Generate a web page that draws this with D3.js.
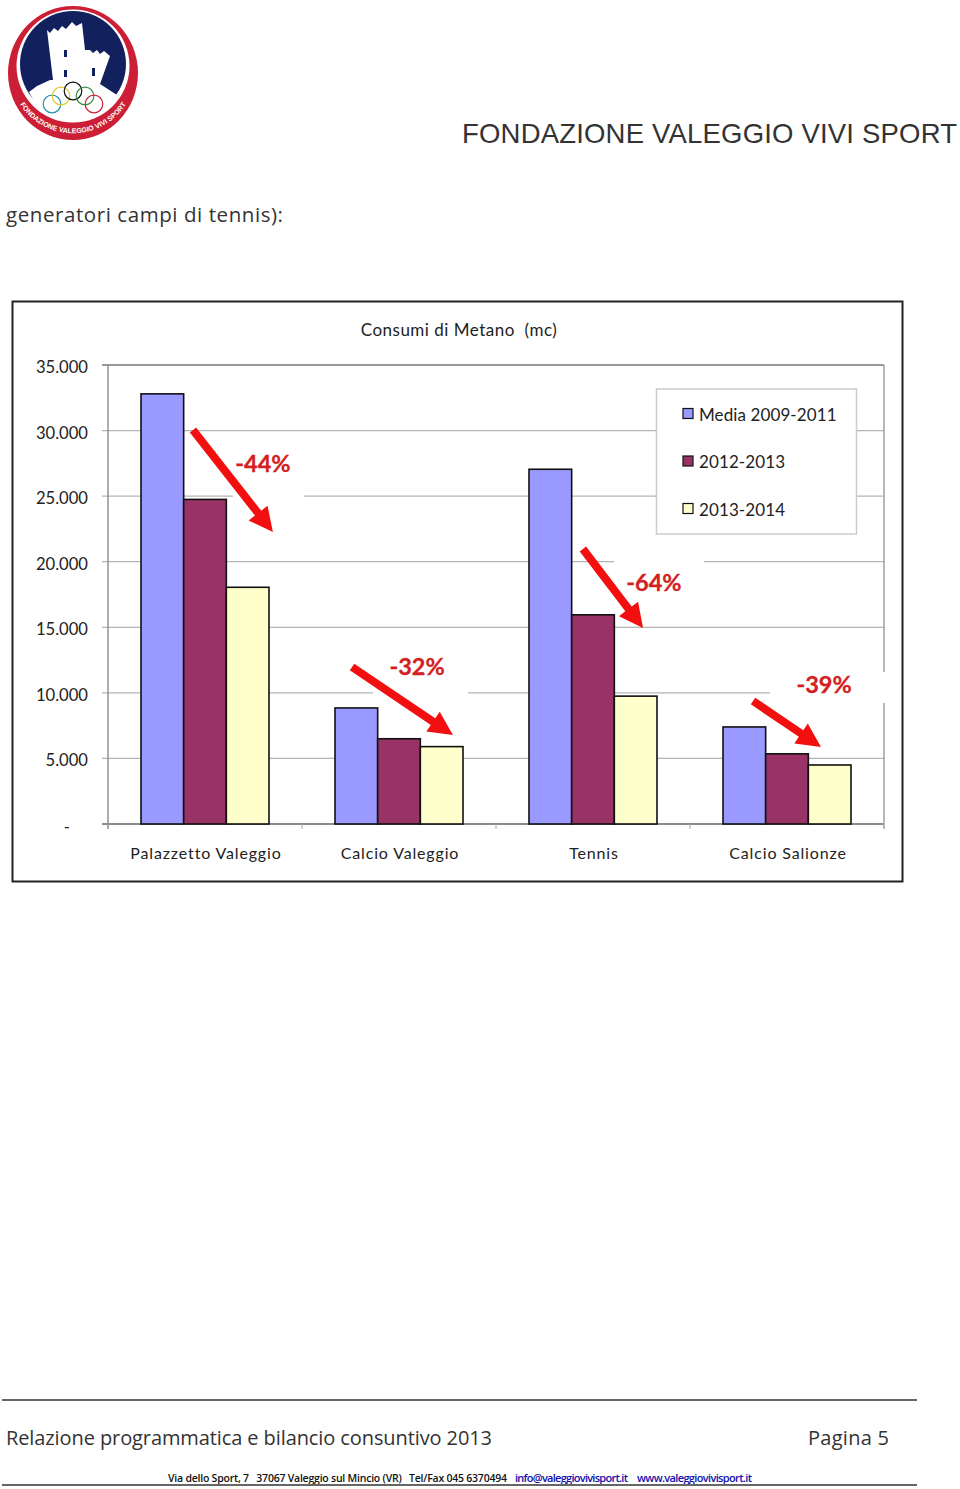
<!DOCTYPE html>
<html><head><meta charset="utf-8">
<script src="https://cdn.jsdelivr.net/npm/d3@7"></script>
<style>html,body{margin:0;padding:0;background:#fff}svg{display:block}text{white-space:pre}</style></head>
<body><svg id="c" width="960" height="1489"></svg>
<script>
const categories=["Palazzetto Valeggio","Calcio Valeggio","Tennis","Calcio Salionze"];
const seriesNames=["Media 2009-2011","2012-2013","2013-2014"];
const media=[32800,8850,27050,7400];
const y1213=[24750,6500,15950,5350];
const y1314=[18050,5900,9750,4500];
const seriesValues=[media,y1213,y1314];
const colors=["#9999ff","#993366","#ffffcc"];
const yTicks=[0,5000,10000,15000,20000,25000,30000,35000];
const yTickLabels=["-","5.000","10.000","15.000","20.000","25.000","30.000","35.000"];
const arrowLabels=["-44%","-32%","-64%","-39%"];
const arrowFrom=[[.438,30044],[1.258,11972],[2.448,20970],[3.325,9379]];
const arrowTo=[[.850,22266],[1.778,6786],[2.758,14946],[3.675,5871]];
const labelAt=[[.799,27527],[1.593,11972],[2.814,18453],[3.691,10675]];

const svg=d3.select("#c");
const sans="'Liberation Sans',Arial,sans-serif", cal="Lato,sans-serif", goth="'Open Sans',sans-serif";
const x=d3.scaleBand().domain(categories).range([108,884]);
const y=d3.scaleLinear().domain([0,35000]).range([824,365]);
const inner=d3.scaleBand().domain([0,1,2]).range([33,x.bandwidth()-33]);
const pos=v=>108+v*x.bandwidth();

/* logo */
const logo=svg.append("g");
logo.append("ellipse").attr("cx",73).attr("cy",73).attr("rx",65).attr("ry",67).attr("fill","#cc1f36");
logo.append("circle").attr("cx",73).attr("cy",66).attr("r",56.5).attr("fill","#fff");
logo.append("circle").attr("cx",73).attr("cy",64).attr("r",53).attr("fill","#12215e");
logo.append("path").attr("fill","#fff").attr("d","M47,30L50,33L54,28L58,31L62,26L66,29L72,22L76,26L82,23L85,50L90,50L93,53L97,50L100,54L104,51L110,56L100,84L117,95L104,112L73,122L40,112L29,92L37,86L50,80L53,80Z");
logo.append("path").attr("fill","#cc1f36").attr("d","M17,86A57,57 0 0 0 129,86L137,86A65,67 0 0 1 9,86Z").attr("opacity",0);
[[64,50,3,7],[64,70,3,7],[92,68,3,8]].forEach(d=>logo.append("rect").attr("x",d[0]).attr("y",d[1]).attr("width",d[2]).attr("height",d[3]).attr("fill","#12215e"));
[[52,104,"#2a8fb0"],[61,96,"#e6c832"],[73,91,"#111"],[85,96,"#3c8f4a"],[94,104,"#c9243a"]].forEach(d=>logo.append("circle").attr("cx",d[0]).attr("cy",d[1]).attr("r",8.8).attr("fill","none").attr("stroke",d[2]).attr("stroke-width",1.2));
logo.append("defs").append("path").attr("id","arc").attr("d","M12,86A63,63 0 0 0 134,86");
logo.append("text").attr("font-family",sans).attr("font-size",7).attr("font-weight",700).attr("fill","#fff")
 .append("textPath").attr("href","#arc").attr("startOffset","50%").attr("text-anchor","middle").text("FONDAZIONE VALEGGIO VIVI SPORT");

/* page text */
svg.append("text").attr("x",462).attr("y",143).attr("font-family",sans).attr("font-size",27.5).attr("fill","#333").attr("textLength",495).text("FONDAZIONE VALEGGIO VIVI SPORT");
svg.append("text").attr("x",6).attr("y",222).attr("font-family",goth).attr("font-size",20.5).attr("fill","#333").attr("textLength",277).text("generatori campi di tennis):");

/* chart frame */
svg.append("rect").attr("x",12.5).attr("y",301.5).attr("width",890).attr("height",580).attr("fill","#fff").attr("stroke","#222").attr("stroke-width",2);
svg.append("text").attr("x",459).attr("y",336).attr("text-anchor","middle").attr("font-family",cal).attr("font-size",17).attr("fill","#222").attr("letter-spacing",.5).text("Consumi di Metano  (mc)");

/* grid + axes */
svg.append("g").selectAll("line").data(yTicks).join("line").attr("x1",102).attr("x2",884).attr("y1",d=>y(d)).attr("y2",d=>y(d))
 .attr("stroke",d=>d===0?"#666":d===35000?"#999":"#b4b4b4").attr("stroke-width",d=>d===35000?2:1.3);
svg.append("line").attr("x1",108).attr("x2",108).attr("y1",365).attr("y2",829).attr("stroke","#8a8a8a").attr("stroke-width",1.4);
svg.append("line").attr("x1",884).attr("x2",884).attr("y1",365).attr("y2",829).attr("stroke","#a6a6a6").attr("stroke-width",1.6);
svg.append("g").selectAll("line").data(categories).join("line").attr("x1",d=>x(d)).attr("x2",d=>x(d)).attr("y1",824).attr("y2",829).attr("stroke","#aaa");
svg.append("g").selectAll("text").data(yTicks).join("text").attr("x",d=>d?88:70).attr("y",d=>y(d)+(d?8:9)).attr("text-anchor","end").attr("font-family",cal).attr("font-size",16.6).attr("fill","#222").text((d,i)=>yTickLabels[i]);
svg.append("g").selectAll("text").data(categories).join("text").attr("x",d=>x(d)+x.bandwidth()/2+1).attr("y",859).attr("text-anchor","middle").attr("font-family",cal).attr("font-size",16).attr("letter-spacing",.85).attr("fill","#222").text(d=>d);

/* white plates behind percent labels */
const plateX=[[-30,41],[-44,51],[-40,50],[-54,62]];
const plateY=[[-25,42],[-17,33],[-30,28],[-12,19]];
svg.append("g").selectAll("rect").data(arrowLabels).join("rect")
 .attr("x",(d,i)=>pos(labelAt[i][0])+plateX[i][0]).attr("width",(d,i)=>plateX[i][1]-plateX[i][0])
 .attr("y",(d,i)=>y(labelAt[i][1])+plateY[i][0]).attr("height",(d,i)=>plateY[i][1]-plateY[i][0])
 .attr("fill","#fff");

/* bars */
seriesValues.forEach((vals,s)=>{
 svg.append("g").selectAll("rect").data(vals).join("rect")
  .attr("x",(d,i)=>x(categories[i])+inner(s)).attr("width",inner.bandwidth())
  .attr("y",d=>y(d)).attr("height",d=>y(0)-y(d))
  .attr("fill",colors[s]).attr("stroke","#111").attr("stroke-width",1.6);
});
svg.append("g").selectAll("text").data(arrowLabels).join("text").attr("x",(d,i)=>pos(labelAt[i][0])).attr("y",(d,i)=>y(labelAt[i][1])+8.5).attr("text-anchor","middle").attr("font-family",cal).attr("font-size",23.5).attr("font-weight",700).attr("fill","#d32020").attr("stroke","#d32020").attr("stroke-width",.3).text(d=>d);

/* arrows */
arrowLabels.forEach((d,i)=>{
 const x1=pos(arrowFrom[i][0]),y1=y(arrowFrom[i][1]),x2=pos(arrowTo[i][0]),y2=y(arrowTo[i][1]);
 const a=Math.atan2(y2-y1,x2-x1),L=Math.hypot(x2-x1,y2-y1),h=24,w=12,t=4;
 svg.append("path").attr("transform",`translate(${x1},${y1}) rotate(${a*180/Math.PI})`).attr("fill","#f20f0f")
  .attr("d",`M0,${-t}L${L-h},${-t}L${L-h},${-w}L${L},0L${L-h},${w}L${L-h},${t}L0,${t}Z`);
});

/* legend */
svg.append("rect").attr("x",656.5).attr("y",389).attr("width",200).attr("height",145).attr("fill","#fff").attr("stroke","#ccc").attr("stroke-width",1.5);
const leg=svg.append("g").selectAll("g").data(seriesNames).join("g").attr("transform",(d,i)=>`translate(683,${414+i*47.5})`);
leg.append("rect").attr("y",-5.5).attr("width",10).attr("height",10).attr("fill",(d,i)=>colors[i]).attr("stroke","#111").attr("stroke-width",1.2);
leg.append("text").attr("x",16).attr("y",6.5).attr("font-family",cal).attr("font-size",17).attr("letter-spacing",.1).attr("fill","#222").text(d=>d);

/* footer */
svg.append("line").attr("x1",2).attr("x2",917).attr("y1",1400).attr("y2",1400).attr("stroke","#333").attr("stroke-width",1.4);
svg.append("text").attr("x",6).attr("y",1445).attr("font-family",goth).attr("font-size",20).attr("fill","#333").attr("textLength",486).text("Relazione programmatica e bilancio consuntivo 2013");
svg.append("text").attr("x",808).attr("y",1445).attr("font-family",goth).attr("font-size",20).attr("fill","#333").attr("textLength",81).text("Pagina 5");
svg.append("text").attr("x",168).attr("y",1482).attr("font-family",goth).attr("font-size",10.5).attr("font-weight",600).attr("fill","#111").attr("textLength",339).text("Via dello Sport, 7   37067 Valeggio sul Mincio (VR)   Tel/Fax 045 6370494");
svg.append("text").attr("x",515).attr("y",1482).attr("font-family",goth).attr("font-size",11).attr("font-weight",600).attr("fill","#1111aa").attr("textLength",113).text("info@valeggiovivisport.it");
svg.append("text").attr("x",637).attr("y",1482).attr("font-family",goth).attr("font-size",11).attr("font-weight",600).attr("fill","#1111aa").attr("textLength",115).text("www.valeggiovivisport.it");
svg.append("line").attr("x1",2).attr("x2",917).attr("y1",1485).attr("y2",1485).attr("stroke","#666").attr("stroke-width",2);
</script></body></html>
